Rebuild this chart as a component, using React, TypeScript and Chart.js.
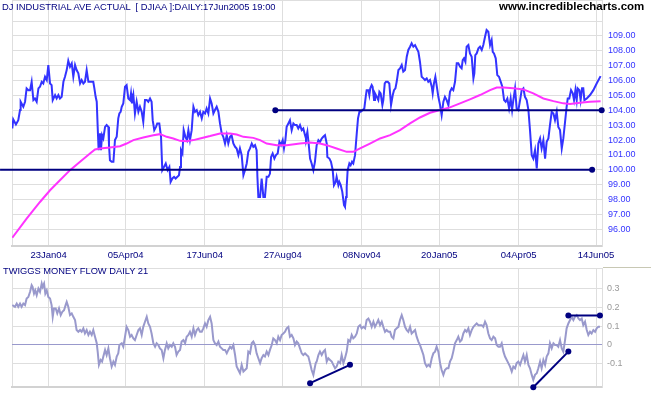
import React, { useEffect, useRef } from 'react';
import { Chart, registerables } from 'chart.js';
Chart.register(...registerables);

// x values are trading-day indices counted from the left edge of the chart
const tickDays = [0, 23.3, 72.3, 122.6, 172.2, 222.5, 271.8, 322.3, 371.5];
const tickLabels = ['', '23Jan04', '05Apr04', '17Jun04', '27Aug04', '08Nov04', '20Jan05', '04Apr05', '14Jun05'];
const dayMax = 375.3;

const priceSeries: [number, number][] = [
  [0.2,102.78],[0.8,103.39],[2.5,103.05],[4.0,103.34],[5.1,104.02],[5.5,104.58],[7.2,104.24],[8.3,104.58],[9.3,105.48],[10.4,105.36],
  [11.5,105.36],[12.5,105.92],[13.6,104.69],[14.6,104.80],[15.7,104.58],[16.8,105.48],[17.8,105.59],[18.9,105.92],[19.9,105.81],[21.0,106.26],
  [22.1,106.04],[23.1,107.05],[24.2,105.81],[25.2,105.70],[25.9,104.69],[27.4,105.03],[28.4,104.80],[29.5,105.03],[30.5,104.80],[31.6,104.91],
  [32.7,105.92],[33.7,106.26],[34.8,106.71],[35.8,107.34],[36.9,106.93],[38.0,107.16],[39.0,106.26],[40.1,107.05],[41.1,106.71],[42.2,106.49],
  [43.3,105.81],[44.3,106.04],[45.4,105.81],[46.4,105.92],[47.5,106.71],[48.6,105.92],[49.6,105.92],[51.7,105.92],[52.4,105.48],[53.2,104.91],
  [53.9,104.58],[54.5,102.89],[55.1,101.32],[56.0,102.45],[56.6,101.32],[57.3,102.33],[58.1,102.11],[59.2,102.89],[60.2,103.01],[61.3,102.89],
  [61.7,101.66],[62.3,100.65],[63.4,100.54],[64.5,100.54],[65.5,102.00],[66.6,102.22],[67.6,103.46],[68.3,103.79],[69.1,103.90],[69.8,104.24],
  [70.8,104.47],[71.9,105.59],[72.9,105.70],[74.0,104.80],[75.1,104.69],[75.7,105.14],[76.3,104.47],[77.2,105.03],[78.2,103.79],[79.3,104.58],
  [80.4,103.90],[81.4,104.24],[82.5,103.90],[83.5,103.23],[84.6,104.69],[85.7,104.69],[86.7,104.58],[87.8,104.80],[88.8,104.58],[89.5,103.34],
  [90.5,102.67],[91.6,102.89],[92.4,103.12],[93.7,103.12],[94.8,102.22],[95.6,99.98],[96.7,100.20],[97.8,100.43],[99.0,99.98],[100.1,100.20],
  [100.9,99.19],[102.0,99.42],[103.1,99.53],[104.1,99.42],[105.2,99.53],[106.2,99.64],[106.9,100.20],[107.5,101.32],[108.4,101.10],[109.2,102.67],
  [110.3,102.22],[111.3,102.00],[112.2,102.67],[113.2,102.00],[114.3,102.67],[114.9,103.57],[115.4,104.24],[116.4,103.90],[117.5,104.02],[118.5,103.68],
  [119.6,103.90],[120.7,103.46],[121.7,103.90],[122.8,103.79],[123.8,104.13],[124.9,103.79],[126.0,104.80],[127.0,104.47],[128.1,103.79],[129.1,104.02],
  [130.2,104.24],[131.3,103.90],[132.3,103.12],[133.4,102.45],[134.4,102.22],[135.5,101.77],[136.6,102.33],[137.6,101.77],[138.7,102.22],[139.7,102.33],
  [140.8,101.77],[141.9,101.55],[142.9,101.44],[144.0,100.99],[145.0,101.44],[146.1,100.99],[147.2,99.64],[148.2,99.98],[149.3,100.43],[150.3,101.21],
  [151.4,101.44],[152.5,101.77],[153.5,101.55],[154.6,101.66],[155.6,101.32],[156.1,99.53],[156.7,98.18],[157.8,98.18],[158.8,99.42],[159.9,98.18],
  [160.9,98.18],[162.0,99.53],[163.1,99.53],[164.1,99.75],[164.8,100.87],[165.8,101.10],[166.9,100.76],[167.9,100.99],[169.0,101.10],[170.1,101.88],
  [171.1,101.66],[172.2,102.00],[173.0,101.44],[173.9,102.00],[174.7,102.89],[175.8,103.12],[176.8,103.34],[177.9,102.67],[179.0,103.12],[180.0,103.01],
  [181.1,103.01],[182.1,102.78],[183.2,103.01],[184.3,102.67],[185.3,102.78],[186.4,102.33],[187.0,102.11],[187.9,102.56],[188.7,101.77],[189.6,100.76],
  [190.6,100.43],[191.7,99.98],[192.7,100.54],[193.8,101.66],[194.9,102.00],[195.9,101.88],[197.0,102.11],[198.0,102.22],[199.1,102.33],[200.2,101.77],
  [200.6,100.87],[201.9,100.76],[202.9,100.54],[204.0,99.98],[204.8,98.97],[205.9,99.19],[206.5,99.53],[207.6,98.97],[208.2,99.19],[209.1,98.97],
  [210.1,98.52],[211.2,97.62],[211.8,97.51],[212.5,98.18],[212.9,98.85],[213.5,99.98],[214.6,100.43],[215.4,100.31],[216.3,100.54],[217.1,100.43],
  [218.2,100.99],[219.3,102.45],[220.1,103.46],[221.0,103.90],[221.8,103.90],[223.1,104.02],[224.1,104.13],[225.0,104.91],[225.6,105.36],[226.7,105.36],
  [227.3,105.03],[227.9,105.48],[228.8,105.70],[229.4,105.59],[230.3,104.69],[230.9,105.14],[232.0,104.91],[233.0,104.69],[233.7,105.25],[234.5,105.14],
  [235.6,104.35],[236.2,104.69],[237.1,105.81],[237.9,105.92],[239.0,105.92],[240.0,105.81],[240.7,104.91],[241.1,104.35],[242.2,105.03],[243.0,105.36],
  [243.9,105.48],[244.7,105.92],[245.8,106.71],[246.8,106.82],[247.9,107.05],[248.9,106.60],[250.0,106.71],[251.1,107.61],[252.1,108.06],[253.2,108.28],
  [254.2,108.51],[255.3,108.28],[256.4,108.39],[257.4,108.17],[258.5,107.94],[259.5,107.27],[260.6,106.26],[261.7,106.15],[262.7,106.04],[263.8,106.15],
  [264.8,105.92],[265.9,106.04],[267.0,105.59],[267.6,105.14],[268.4,105.81],[269.3,106.26],[270.1,105.70],[271.2,104.91],[272.3,104.35],[273.3,103.68],
  [274.4,104.58],[275.4,104.91],[276.5,104.69],[277.6,104.35],[278.6,105.25],[279.7,105.48],[280.7,105.36],[281.8,105.92],[282.9,107.16],[283.9,107.16],
  [285.0,106.93],[286.0,106.82],[286.7,107.38],[287.5,107.50],[288.4,107.27],[289.2,108.28],[290.3,108.39],[291.3,107.83],[292.4,107.61],[293.5,106.15],
  [294.1,106.49],[294.7,107.72],[295.6,107.83],[296.7,108.17],[297.7,108.28],[298.8,108.06],[299.8,108.39],[300.9,108.95],[301.9,109.40],[303.0,109.29],
  [304.1,108.39],[305.1,108.73],[305.8,107.94],[306.6,107.83],[307.7,107.50],[308.7,106.37],[309.8,106.26],[310.9,105.92],[311.9,105.59],[313.0,104.69],
  [314.0,104.58],[315.1,104.80],[316.2,104.13],[317.2,104.80],[318.1,104.02],[318.9,104.69],[320.0,105.48],[321.0,104.13],[322.1,104.02],[323.2,104.69],
  [324.2,105.36],[325.3,105.48],[326.3,104.91],[327.4,104.69],[328.5,104.02],[329.5,102.67],[330.6,100.99],[331.6,100.76],[332.7,101.32],[333.8,100.09],
  [334.8,101.77],[335.9,102.11],[336.9,101.44],[338.0,102.00],[339.1,100.76],[340.1,101.88],[341.2,102.11],[342.2,103.01],[343.3,103.90],[344.4,103.79],
  [345.4,103.34],[346.5,103.90],[347.5,102.89],[348.6,102.67],[349.7,101.44],[350.7,102.11],[351.8,103.23],[352.8,104.24],[353.5,104.80],[354.5,104.80],
  [355.6,105.36],[356.7,105.14],[357.5,104.69],[358.4,105.36],[359.2,104.69],[359.8,105.48],[360.9,105.36],[361.7,104.69],[362.6,105.48],[363.4,105.48],
  [364.1,104.69],[365.6,104.80],[367.7,105.03],[369.8,105.36],[371.9,105.81],[374.4,106.30]
];

const maSeries: [number, number][] = [
  [0.2,95.44],[9.3,96.72],[17.8,97.84],[24.2,98.63],[30.5,99.30],[36.9,99.98],[43.3,100.54],[49.6,101.10],[52.8,101.37],[56.0,101.44],
  [62.3,101.50],[68.7,101.59],[72.9,101.77],[77.2,102.00],[83.5,102.18],[89.9,102.33],[94.1,102.40],[98.4,102.22],[102.6,102.11],[106.9,101.95],
  [111.1,101.93],[115.4,102.00],[119.6,102.11],[126.0,102.27],[132.3,102.45],[138.7,102.45],[142.9,102.38],[147.2,102.22],[153.5,102.15],[157.8,102.00],
  [162.0,101.77],[168.4,101.66],[174.7,101.66],[183.2,101.77],[189.6,101.84],[195.9,101.77],[200.2,101.66],[206.5,101.44],[212.9,101.21],[217.1,101.21],
  [221.4,101.44],[227.7,101.77],[234.1,102.11],[240.5,102.33],[246.8,102.67],[253.2,103.12],[259.5,103.52],[265.9,103.84],[272.3,104.02],[278.6,104.20],
  [285.0,104.47],[291.3,104.74],[297.7,105.03],[304.1,105.36],[308.3,105.54],[312.6,105.54],[318.9,105.48],[325.3,105.41],[331.6,105.14],[338.0,104.80],
  [344.4,104.62],[350.7,104.47],[355.0,104.42],[361.3,104.51],[367.7,104.58],[374.4,104.62]
];

const supportLow: [number, number][] = [[-7.6, 100], [369.0, 100]];
const supportHigh: [number, number][] = [[167.5, 104], [375.1, 104]];

const moneyFlow: [number, number][] = [
  [0.2,0.211],[1.9,0.202],[3.0,0.219],[4.0,0.202],[5.1,0.219],[6.1,0.202],[7.2,0.219],[8.3,0.211],[9.3,0.246],[10.4,0.254],
  [11.5,0.281],[12.5,0.316],[13.1,0.307],[14.0,0.272],[14.8,0.289],[15.7,0.263],[16.8,0.298],[17.8,0.281],[18.9,0.325],[19.5,0.307],
  [20.4,0.325],[21.2,0.272],[22.1,0.289],[23.1,0.254],[24.2,0.246],[25.2,0.211],[25.9,0.149],[26.7,0.193],[27.8,0.193],[28.8,0.167],
  [29.9,0.193],[31.0,0.158],[32.0,0.175],[33.1,0.184],[34.1,0.211],[34.8,0.228],[35.8,0.202],[36.9,0.158],[38.0,0.167],[39.0,0.149],
  [40.1,0.132],[41.1,0.079],[42.2,0.070],[43.3,0.079],[44.3,0.070],[45.4,0.088],[46.4,0.061],[47.5,0.079],[48.6,0.053],[49.6,0.070],
  [50.7,0.053],[51.7,0.079],[52.8,0.044],[53.9,0.009],[54.5,-0.035],[55.3,-0.105],[56.4,-0.079],[57.3,-0.088],[58.1,-0.061],[59.2,-0.026],
  [60.2,-0.053],[61.3,-0.018],[62.3,-0.070],[63.4,-0.114],[64.5,-0.088],[65.5,-0.105],[66.6,-0.061],[67.6,-0.044],[68.3,0],[69.8,0.009],
  [70.8,-0.009],[71.9,0.044],[72.9,0.096],[74.0,0.079],[75.1,0.044],[76.1,0.053],[77.2,0.035],[78.2,0.026],[79.3,0.053],[80.4,0.079],
  [81.4,0.088],[82.5,0.053],[83.5,0.096],[84.6,0.123],[85.7,0.149],[86.7,0.114],[87.8,0.096],[88.8,0.061],[89.9,0.009],[91.0,-0.009],
  [92.0,0.009],[93.1,0],[94.1,-0.018],[95.2,-0.026],[96.3,-0.070],[97.3,-0.026],[98.4,0.009],[99.4,-0.018],[100.5,0],[101.6,-0.009],
  [102.6,0.009],[103.7,-0.009],[104.7,-0.053],[105.8,-0.035],[106.9,-0.026],[107.9,0.018],[109.0,0.026],[110.1,0.009],[111.1,0.044],[112.2,0.053],
  [113.2,0.070],[114.3,0.044],[115.4,0.088],[116.4,0.053],[117.5,0.079],[118.5,0.088],[119.6,0.070],[120.7,0.070],[121.7,0.088],[122.8,0.114],
  [123.8,0.096],[124.9,0.132],[126.0,0.149],[127.0,0.114],[128.1,0.026],[129.1,0.009],[130.2,0],[131.3,0.018],[132.3,-0.009],[133.4,-0.018],
  [134.4,-0.026],[135.5,-0.026],[136.6,-0.044],[137.6,-0.026],[138.7,-0.009],[139.7,-0.018],[140.8,0],[141.9,-0.053],[142.9,-0.114],[144.0,-0.132],
  [145.0,-0.149],[146.1,-0.105],[147.2,-0.140],[148.2,-0.132],[149.3,-0.123],[150.3,-0.035],[151.4,-0.044],[152.5,0.009],[153.5,0.018],[154.6,0],
  [155.6,-0.044],[156.7,-0.070],[157.8,-0.096],[158.8,-0.070],[159.9,-0.053],[160.9,-0.061],[162.0,-0.035],[163.1,-0.053],[164.1,-0.026],[165.2,0],
  [166.2,0.035],[167.3,0.026],[168.4,0.009],[169.4,0.044],[170.5,0.026],[171.5,0.053],[172.6,0.061],[173.7,0.070],[174.7,0.088],[175.8,0.096],
  [176.8,0.044],[177.9,0.053],[179.0,0.035],[180.0,0],[181.1,0.018],[182.1,0.009],[183.2,-0.018],[184.3,-0.044],[185.3,-0.053],[186.4,-0.044],
  [187.4,-0.053],[188.5,-0.061],[189.6,-0.096],[190.6,-0.132],[191.7,-0.158],[192.3,-0.132],[193.2,-0.096],[193.8,-0.088],[194.9,-0.053],[195.9,-0.035],
  [197.0,-0.053],[198.1,-0.035],[199.1,-0.026],[200.2,-0.088],[201.2,-0.070],[202.3,-0.079],[203.4,-0.088],[204.4,-0.105],[205.5,-0.123],[206.5,-0.114],
  [207.6,-0.088],[208.7,-0.096],[209.7,-0.053],[210.8,-0.096],[211.8,-0.070],[212.9,-0.035],[213.9,0.026],[215.0,0.018],[216.1,0.053],[217.1,0.035],
  [218.2,0.044],[219.3,0.061],[220.3,0.096],[221.4,0.105],[222.4,0.088],[223.5,0.096],[224.6,0.088],[225.6,0.132],[226.7,0.140],[227.7,0.123],
  [228.8,0.096],[229.9,0.123],[230.9,0.096],[232.0,0.114],[233.0,0.132],[234.1,0.105],[235.2,0.123],[236.2,0.096],[237.3,0.070],[238.3,0.079],
  [239.4,0.070],[240.5,0.070],[241.5,0.044],[242.6,0.035],[243.6,0.079],[244.7,0.088],[245.8,0.096],[246.8,0.132],[247.9,0.158],[248.9,0.132],
  [250.0,0.096],[251.1,0.079],[252.1,0.070],[253.2,0.096],[254.2,0.061],[255.3,0.070],[256.4,0.079],[257.4,0.044],[258.5,0.018],[259.5,0],
  [260.6,-0.026],[261.7,-0.053],[262.7,-0.096],[263.8,-0.114],[264.8,-0.105],[265.9,-0.114],[267.0,-0.070],[268.0,-0.044],[269.1,-0.035],[270.1,-0.009],
  [271.2,-0.035],[272.3,-0.096],[273.3,-0.132],[274.4,-0.158],[275.4,-0.132],[276.5,-0.123],[277.6,-0.123],[278.6,-0.088],[279.7,-0.070],[280.7,-0.035],
  [281.8,0.009],[282.9,0.026],[283.9,0.044],[285.0,0.018],[286.0,0.026],[287.1,0.061],[288.2,0.079],[289.2,0.070],[290.3,0.088],[291.3,0.053],
  [292.4,0.079],[293.5,0.096],[294.5,0.105],[295.6,0.114],[296.7,0.105],[297.7,0.105],[298.8,0.105],[299.8,0.096],[300.9,0.123],[301.9,0.105],
  [303.0,0.061],[304.1,0.035],[305.1,0.026],[306.2,0.044],[307.3,0.035],[308.3,0],[309.4,-0.009],[310.4,-0.009],[311.5,0.009],[312.6,-0.035],
  [313.6,-0.061],[314.7,-0.079],[315.7,-0.096],[316.8,-0.114],[317.9,-0.140],[318.9,-0.114],[320.0,-0.123],[321.0,-0.096],[322.1,-0.088],[323.2,-0.105],
  [324.2,-0.079],[325.3,-0.053],[326.3,-0.088],[327.4,-0.053],[328.5,-0.105],[329.5,-0.123],[330.6,-0.158],[331.6,-0.184],[332.7,-0.158],[333.8,-0.149],
  [334.8,-0.123],[335.9,-0.088],[336.9,-0.123],[338.0,-0.079],[339.1,-0.105],[340.1,-0.061],[341.2,-0.044],[342.2,0.009],[343.3,-0.018],[344.4,0.009],
  [345.4,0],[346.5,0],[347.5,-0.009],[348.6,0.026],[349.7,-0.018],[350.7,-0.035],[351.8,0.026],[352.8,0.088],[353.9,0.114],[355.0,0.132],
  [356.0,0.149],[357.1,0.132],[358.1,0.149],[359.2,0.158],[360.3,0.140],[361.3,0.132],[362.4,0.140],[363.4,0.105],[364.5,0.123],[365.6,0.079],
  [366.6,0.053],[367.7,0.070],[368.7,0.061],[369.8,0.079],[370.9,0.070],[371.9,0.088],[373.0,0.096],[374.0,0.096]
];

const mfTrendA: [number, number][] = [[189.6, -0.202], [215.0, -0.105]];
const mfTrendB: [number, number][] = [[331.6, -0.223], [353.9, -0.035]];
const mfTrendC: [number, number][] = [[353.9, 0.156], [374.0, 0.156]];

const NAVY = '#000080';
const BLUE = '#3333ff';
const MAGENTA = '#ff33ff';
const MF = '#9999cc';
const GRID = '#dedede';
const BORDER = '#d2d2d2';
const FONT = 'Arial, "Liberation Sans", sans-serif';

function zeroPad(s: any) {
  s.paddingTop = 0; s.paddingBottom = 0; s.paddingLeft = 0; s.paddingRight = 0;
}

function navyLine(data: [number, number][], radius: number | number[]) {
  return {
    data, borderColor: NAVY, backgroundColor: NAVY, borderWidth: 2,
    pointRadius: radius, pointBorderWidth: 0, tension: 0, clip: false as any,
  };
}

function plainLine(data: [number, number][], color: string) {
  return { data, borderColor: color, borderWidth: 2, pointRadius: 0, tension: 0, fill: false };
}

function xScale(showLabels: boolean, height: number) {
  return {
    type: 'linear' as const, position: 'bottom' as const, min: 0, max: dayMax,
    afterBuildTicks: (s: any) => { s.ticks = tickDays.map((v) => ({ value: v })); },
    afterFit: (s: any) => { s.height = height; zeroPad(s); },
    grid: { color: GRID, drawTicks: false, lineWidth: 1 },
    border: { display: true, color: BORDER, width: 2 },
    ticks: {
      display: showLabels, autoSkip: false, maxRotation: 0, minRotation: 0, padding: 4,
      color: NAVY, font: { family: FONT, size: 9.5 },
      callback: (_v: any, i: number) => tickLabels[i] ?? '',
    },
  };
}

export default function App() {
  const topRef = useRef<HTMLCanvasElement>(null);
  const botRef = useRef<HTMLCanvasElement>(null);

  useEffect(() => {
    const top = new Chart(topRef.current!, {
      type: 'line',
      data: {
        datasets: [
          navyLine(supportHigh, 3) as any,
          navyLine(supportLow, [0, 3]) as any,
          plainLine(maSeries, MAGENTA),
          plainLine(priceSeries, BLUE),
        ],
      },
      options: {
        animation: false, responsive: false, events: [],
        layout: { autoPadding: false, padding: { left: 12, right: 0, top: 0, bottom: 0 } },
        plugins: { legend: { display: false }, tooltip: { enabled: false } },
        scales: {
          x: xScale(true, 16) as any,
          y: {
            type: 'linear', position: 'right', min: 94.88, max: 111.42,
            afterFit: (s: any) => { s.width = 49; zeroPad(s); },
            grid: { color: GRID, drawTicks: false },
            border: { display: true, color: GRID },
            ticks: {
              stepSize: 1, padding: 6, color: BLUE, font: { family: FONT, size: 9 },
              callback: (v: any) => {
                const n = Number(v);
                return Math.abs(n - Math.round(n)) < 1e-6 && n >= 96 && n <= 109 ? n.toFixed(2) : '';
              },
            },
          },
        },
      },
    });

    const bot = new Chart(botRef.current!, {
      type: 'line',
      data: {
        datasets: [
          navyLine(mfTrendA, 3) as any,
          navyLine(mfTrendB, 3) as any,
          navyLine(mfTrendC, 3) as any,
          plainLine(moneyFlow, MF),
        ],
      },
      options: {
        animation: false, responsive: false, events: [],
        layout: { autoPadding: false, padding: { left: 12, right: 0, top: 6, bottom: 0 } },
        plugins: { legend: { display: false }, tooltip: { enabled: false } },
        scales: {
          x: xScale(false, 8) as any,
          y: {
            type: 'linear', position: 'right', min: -0.222, max: 0.407,
            afterFit: (s: any) => { s.width = 49; zeroPad(s); },
            grid: {
              drawTicks: false,
              color: (ctx: any) => (ctx.tick && Math.abs(ctx.tick.value) < 1e-9 ? MF : GRID),
            },
            border: { display: true, color: GRID },
            ticks: {
              stepSize: 0.1, padding: 5, color: '#999999', font: { family: FONT, size: 9 },
              callback: (v: any) => {
                const n = Number(v);
                const r = Math.round(n * 10) / 10;
                if (Math.abs(n - r) > 1e-6 || r < -0.1 || r > 0.3) return '';
                return r === 0 ? '0' : r.toFixed(1);
              },
            },
          },
        },
      },
    });

    return () => { top.destroy(); bot.destroy(); };
  }, []);

  const text: React.CSSProperties = {
    position: 'absolute', fontFamily: FONT, lineHeight: 1, whiteSpace: 'pre', margin: 0, pointerEvents: 'none',
  };

  return (
    <div style={{ position: 'absolute', left: 0, top: 0, width: 651, height: 395, background: '#ffffff', overflow: 'hidden' }}>
      <canvas ref={topRef} width={651} height={262} style={{ position: 'absolute', left: 0, top: 0, display: 'block' }} />
      <canvas ref={botRef} width={651} height={133} style={{ position: 'absolute', left: 0, top: 262, display: 'block' }} />
      <div style={{ position: 'absolute', left: 603, top: 267, width: 48, height: 1, background: '#c8c8b4' }} />
      <div style={{ ...text, left: 2, top: 1.5, fontSize: 9.4, color: NAVY }}>
        {'DJ INDUSTRIAL AVE ACTUAL  [ DJIAA ]:DAILY:17Jun2005 19:00'}
      </div>
      <div style={{ ...text, left: 499, top: 1, fontSize: 11.5, fontWeight: 'bold', color: '#000000' }}>
        www.incrediblecharts.com
      </div>
      <div style={{ ...text, left: 3, top: 267, fontSize: 9.3, color: NAVY }}>
        TWIGGS MONEY FLOW DAILY 21
      </div>
    </div>
  );
}
